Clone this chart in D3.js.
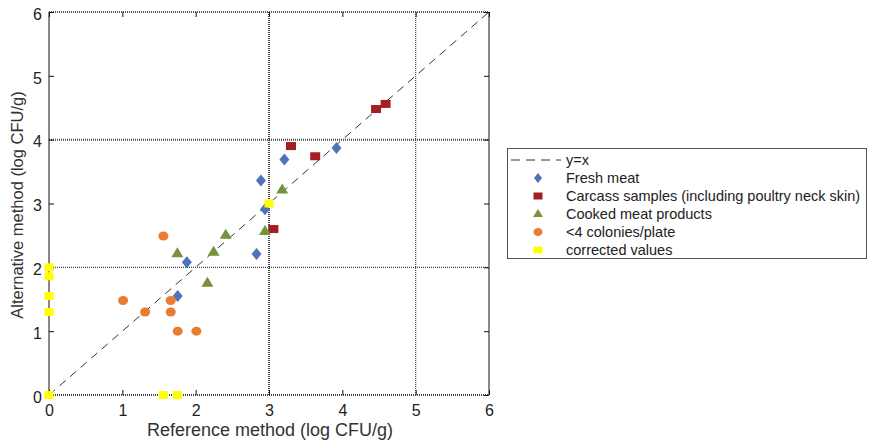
<!DOCTYPE html>
<html>
<head>
<meta charset="utf-8">
<script src="https://cdn.jsdelivr.net/npm/d3@7"></script>
<style>
  body { margin: 0; background: #fff; }
  text { font-family: "Liberation Sans", Arial, sans-serif; }
</style>
</head>
<body>
<svg id="chart" width="872" height="443"></svg>
<script>
// data: [reference, alternative]
const freshMeat = [[2.89,3.36],[3.21,3.69],[3.92,3.87],[2.945,2.91],[2.83,2.21],[1.88,2.08],[1.755,1.55]];
const carcass = [[4.46,4.48],[4.59,4.56],[3.30,3.90],[3.63,3.74],[3.06,2.60]];
const cooked = [[3.18,3.22],[1.75,2.22],[2.245,2.245],[2.41,2.51],[2.945,2.57],[2.16,1.76]];
const fewColonies = [[1.56,2.49],[1.01,1.48],[1.31,1.30],[1.66,1.48],[1.66,1.30],[1.755,1.00],[2.01,1.00]];
const corrected = [[3.0,3.0],[0,2.0],[0,1.86],[0,1.55],[0,1.30],[0,0],[1.56,0],[1.75,0]];
const ticks = [0,1,2,3,4,5,6];
const legendLabels = ["y=x","Fresh meat","Carcass samples (including poultry neck skin)","Cooked meat products","<4 colonies/plate","corrected values"];

const svg = d3.select("#chart");
const x = d3.scaleLinear().domain([0,6]).range([49,489]);
const y = d3.scaleLinear().domain([0,6]).range([395,12]);

const g = svg.append("g");

// grid lines
const gridX = [[3,2],[5,1.2]], gridY = [[2,1.2],[4,2]];
gridX.forEach(([v,w])=>g.append("line").attr("x1",x(v)).attr("x2",x(v)).attr("y1",y(0)).attr("y2",y(6))
  .attr("stroke","#444").attr("stroke-width",w).attr("stroke-dasharray","1,1"));
gridY.forEach(([v,w])=>g.append("line").attr("x1",x(0)).attr("x2",x(6)).attr("y1",y(v)).attr("y2",y(v))
  .attr("stroke","#444").attr("stroke-width",w).attr("stroke-dasharray","1,1"));

// frame
g.append("line").attr("x1",x(0)).attr("x2",x(6)).attr("y1",y(6)).attr("y2",y(6)).attr("stroke","#555").attr("stroke-width",2).attr("stroke-dasharray","1,1");
g.append("line").attr("x1",x(0)).attr("x2",x(6)).attr("y1",y(0)).attr("y2",y(0)).attr("stroke","#444").attr("stroke-width",2).attr("stroke-dasharray","1,1");
g.append("line").attr("x1",x(0)).attr("x2",x(0)).attr("y1",y(0)).attr("y2",y(6)).attr("stroke","#111");
g.append("line").attr("x1",x(6)).attr("x2",x(6)).attr("y1",y(0)).attr("y2",y(6)).attr("stroke","#111");

// axes with inward ticks
const styleAxis = sel=>{ sel.select(".domain").remove(); sel.selectAll("line").attr("stroke","#111");
  sel.selectAll("text").attr("fill","#222").style("font-size","16px"); };
g.append("g").attr("transform",`translate(0,${y(0)})`)
  .call(d3.axisBottom(x).tickValues(ticks).tickSize(-5).tickPadding(10).tickFormat(d3.format("d"))).call(styleAxis);
g.append("g").attr("transform",`translate(0,${y(6)})`).call(d3.axisTop(x).tickValues(ticks).tickSize(-5).tickFormat(""))
  .call(styleAxis);
g.append("g").attr("transform",`translate(${x(0)},0)`)
  .call(d3.axisLeft(y).tickValues(ticks).tickSize(-5).tickPadding(7).tickFormat(d3.format("d"))).call(styleAxis)
  .selectAll("text").attr("dy","0.45em");
g.append("g").attr("transform",`translate(${x(6)},0)`).call(d3.axisRight(y).tickValues(ticks).tickSize(-5).tickFormat(""))
  .call(styleAxis);

// y = x line
g.append("line").attr("x1",x(0)).attr("y1",y(0)).attr("x2",x(6)).attr("y2",y(6))
  .attr("stroke","#333").attr("stroke-width",1).attr("stroke-dasharray","8,6");

// markers
const diamond = "M0,-6L5,0L0,6L-5,0Z";
g.selectAll(".fm").data(freshMeat).join("path").attr("d",diamond)
  .attr("transform",d=>`translate(${x(d[0])},${y(d[1])})`).attr("fill","#4f73b8");
g.selectAll(".cs").data(carcass).join("rect").attr("width",10).attr("height",8)
  .attr("x",d=>x(d[0])-5).attr("y",d=>y(d[1])-4).attr("fill","#a31f22");
const tri = "M0,-6L6,4L-6,4Z";
g.selectAll(".cm").data(cooked).join("path").attr("d",tri)
  .attr("transform",d=>`translate(${x(d[0])},${y(d[1])})`).attr("fill","#76923c");
g.selectAll(".fc").data(fewColonies).join("ellipse").attr("rx",5).attr("ry",4.5)
  .attr("cx",d=>x(d[0])).attr("cy",d=>y(d[1])).attr("fill","#e97c30");
g.selectAll(".cv").data(corrected).join("rect").attr("width",9).attr("height",8)
  .attr("x",d=>x(d[0])-4.5).attr("y",d=>y(d[1])-4).attr("fill","#ffff00");

// axis titles
svg.append("text").attr("x",270).attr("y",436).attr("text-anchor","middle")
  .attr("fill","#333").style("font-size","18px").text("Reference method (log CFU/g)");
svg.append("text").attr("transform",`translate(23,205) rotate(-90)`).attr("text-anchor","middle")
  .attr("fill","#333").style("font-size","16.5px").text("Alternative method (log CFU/g)");

// legend
const lg = svg.append("g").attr("transform","translate(507,148)");
lg.append("rect").attr("x",0.5).attr("y",0.5).attr("width",359).attr("height",110)
  .attr("fill","#fff").attr("stroke","#555");
const rowY = i=>12+i*18;
lg.append("line").attr("x1",4).attr("x2",54).attr("y1",rowY(0)).attr("y2",rowY(0))
  .attr("stroke","#333").attr("stroke-dasharray","9,6");
const lx = 31;
lg.append("path").attr("d","M0,-5L4,0L0,5L-4,0Z").attr("transform",`translate(${lx},${rowY(1)})`).attr("fill","#4f73b8");
lg.append("rect").attr("x",lx-4.5).attr("y",rowY(2)-3.5).attr("width",9).attr("height",7).attr("fill","#a31f22");
lg.append("path").attr("d","M0,-5L5,3L-5,3Z").attr("transform",`translate(${lx},${rowY(3)})`).attr("fill","#76923c");
lg.append("ellipse").attr("cx",lx).attr("cy",rowY(4)).attr("rx",4.5).attr("ry",4).attr("fill","#e97c30");
lg.append("rect").attr("x",lx-4.5).attr("y",rowY(5)-3.5).attr("width",9).attr("height",7).attr("fill","#ffff00");
lg.selectAll(".lt").data(legendLabels).join("text").attr("x",59).attr("y",(d,i)=>rowY(i)+5)
  .attr("fill","#222").style("font-size","14.5px").text(d=>d);
</script>
</body>
</html>
